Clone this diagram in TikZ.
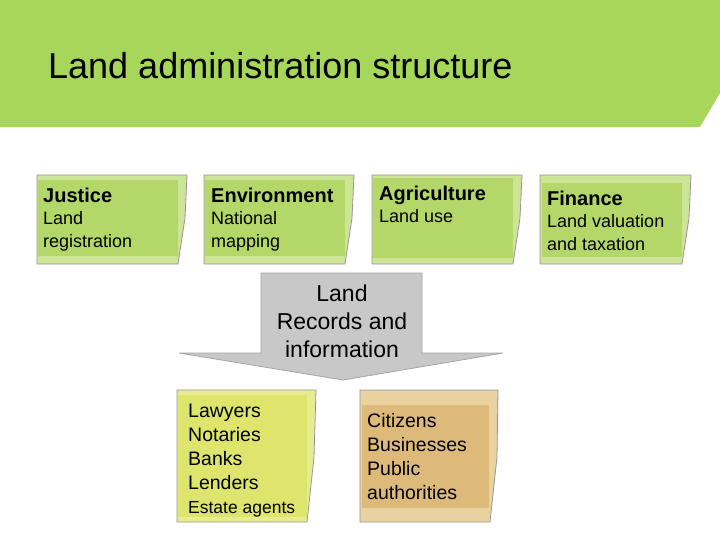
\documentclass[tikz,border=0pt]{standalone}
\usepackage{fontspec}
\setmainfont{Liberation Sans}
\usetikzlibrary{positioning}

\definecolor{hdrgreen}{RGB}{166,214,90}
\definecolor{greenouter}{RGB}{204,229,150}
\definecolor{greeninner}{RGB}{180,215,106}
\definecolor{yellowouter}{RGB}{232,236,145}
\definecolor{yellowinner}{RGB}{221,229,108}
\definecolor{tanouter}{RGB}{234,210,160}
\definecolor{taninner}{RGB}{222,186,122}
\definecolor{arrowfill}{RGB}{200,200,200}
\definecolor{arrowedge}{RGB}{165,165,165}
\definecolor{noteedge}{RGB}{150,150,150}

\newcommand{\hdfont}{\fontsize{20}{23}\selectfont\bfseries}

\begin{document}
\begin{tikzpicture}[x=1pt, y=-1pt,
    noteouter/.style={draw=noteedge, line width=0.8pt},
    noteinner/.style={anchor=north west, inner sep=0pt, outer sep=0pt},
    notetext/.style={align=left, inner sep=0pt, font=\fontsize{18}{22.5}\selectfont},
    lowtext/.style={align=left, inner sep=0pt, font=\fontsize{19.5}{24}\selectfont},
    arrowtext/.style={align=center, inner sep=0pt, font=\fontsize{23}{28}\selectfont}
  ]
  \useasboundingbox[fill=white] (0,0) rectangle (720,540);

  % header band
  \fill[hdrgreen] (0,0) -- (720,0) -- (720,93) -- (700,127) -- (0,127) -- cycle;
  \node[anchor=base west, inner sep=0pt, font=\fontsize{36}{43}\selectfont] (title) at (48,78.5) {Land administration structure};

  % ministries
  \foreach \x/\w in {37/150,204/150,372/150,540/151} {
    \filldraw[noteouter, fill=greenouter] (\x,175) -- ++(\w,0) -- ++(-2,43) -- ++(-7,46) -- (\x,264) -- cycle;
  }
  \node[noteinner, fill=greeninner, minimum width=140pt, minimum height=76pt] (justice) at (38,180) {};
  \node[noteinner, fill=greeninner, minimum width=140pt, minimum height=76pt] (environment) at (205,180) {};
  \node[noteinner, fill=greeninner, minimum width=140pt, minimum height=80pt] (agriculture) at (373,178) {};
  \node[noteinner, fill=greeninner, minimum width=140pt, minimum height=74pt] (finance) at (542,183) {};

  \node[notetext, below right=7.6pt and 5pt of justice.north west] (justicetext) {{\hdfont Justice}\\Land\\registration};
  \node[notetext, below right=7.6pt and 6pt of environment.north west] (environmenttext) {{\hdfont Environment}\\National\\mapping};
  \node[notetext, below right=7.6pt and 6pt of agriculture.north west] (agriculturetext) {{\hdfont Agriculture}\\Land use};
  \node[notetext, below right=7.6pt and 5pt of finance.north west] (financetext) {{\hdfont Finance}\\Land valuation\\and taxation};

  % land records arrow
  \filldraw[fill=arrowfill, draw=arrowedge, line width=0.8pt] (261,273) -- (422,273) -- (422,353) -- (503,353) -- (343,380) -- (179,353) -- (261,353) -- cycle;
  \node[arrowtext, anchor=north] (records) at (342,284.5) {Land\\Records and\\information};

  % users
  \filldraw[noteouter, fill=yellowouter] (177,390) -- (316,390) -- (314,457) -- (307,522) -- (177,522) -- cycle;
  \filldraw[noteouter, fill=tanouter] (360,390) -- (498,390) -- (497,457) -- (490,522) -- (360,522) -- cycle;
  \node[noteinner, fill=yellowinner, minimum width=129pt, minimum height=122pt] (lawyers) at (178,395) {};
  \node[noteinner, fill=taninner, minimum width=127pt, minimum height=103pt] (citizens) at (362,405) {};

  \node[lowtext, below right=9pt and 10pt of lawyers.north west] (lawyerstext) {Lawyers\\Notaries\\Banks\\Lenders\\{\fontsize{17.5}{22}\selectfont Estate agents}};
  \node[lowtext, below right=8pt and 5pt of citizens.north west] (citizenstext) {Citizens\\Businesses\\Public\\authorities};
\end{tikzpicture}
\end{document}
